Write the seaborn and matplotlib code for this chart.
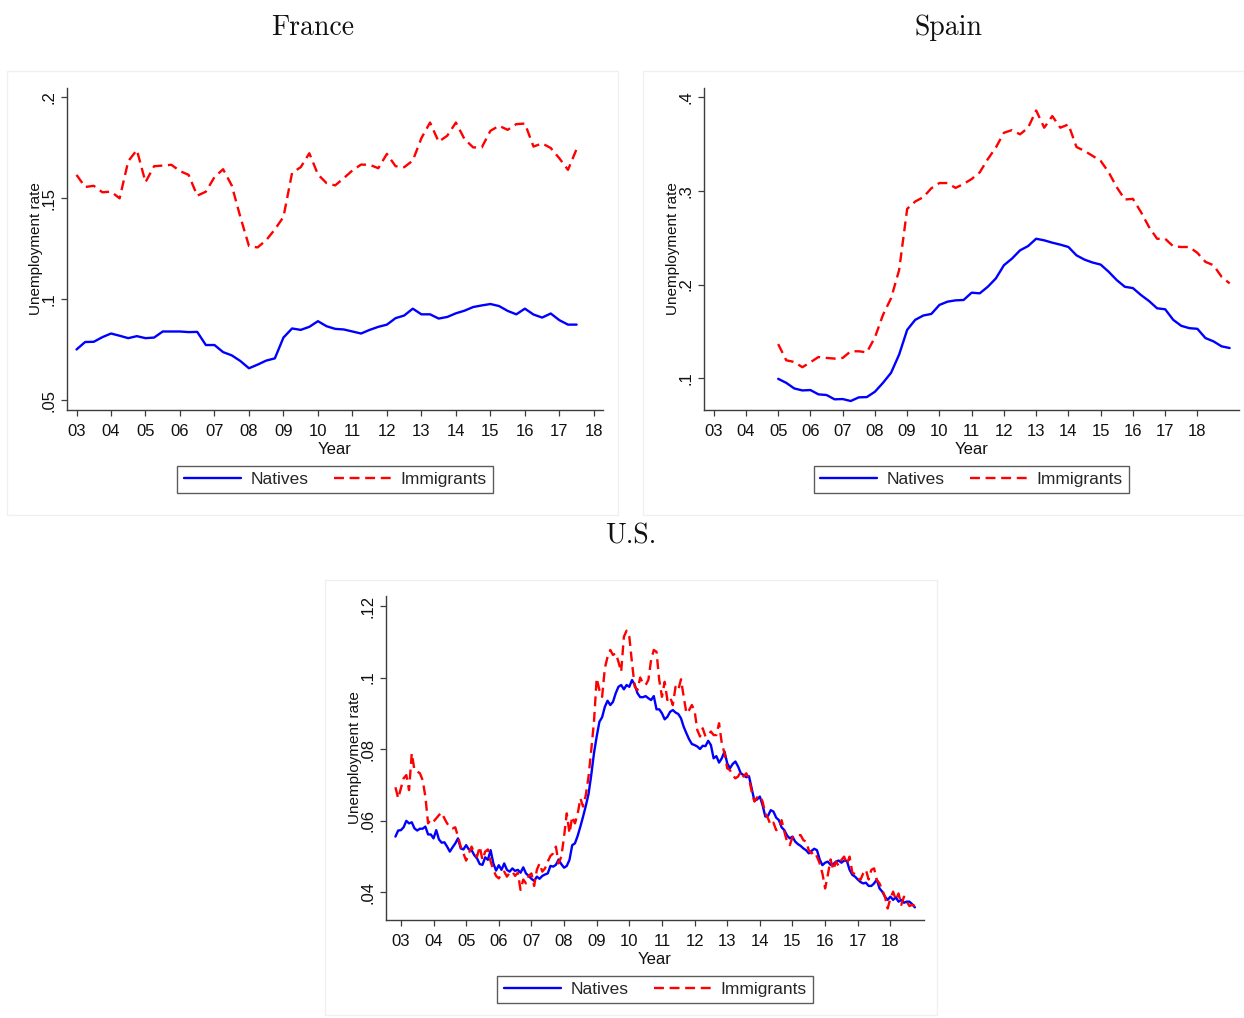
import numpy as np
import pandas as pd
import matplotlib
matplotlib.use("Agg")
import matplotlib.pyplot as plt
from matplotlib.patches import Rectangle
import seaborn as sns

# ---------------- data ----------------
fr_start, fr_n = 2003.0, 59      # quarterly
es_start, es_n = 2005.0, 57      # quarterly
us_start, us_n = 2002 + 10 / 12, 192  # monthly

fr_natives = [0.0752, 0.0789, 0.0790, 0.0813, 0.0831, 0.0820, 0.0808, 0.0818, 0.0808, 0.0811,
              0.0841, 0.0841, 0.0841, 0.0838, 0.0839, 0.0774, 0.0774, 0.0739, 0.0723, 0.0695,
              0.0659, 0.0677, 0.0697, 0.0708, 0.0811, 0.0856, 0.0849, 0.0864, 0.0892, 0.0867,
              0.0854, 0.0851, 0.0841, 0.0831, 0.0849, 0.0864, 0.0875, 0.0907, 0.0920, 0.0954,
              0.0926, 0.0926, 0.0905, 0.0913, 0.0931, 0.0944, 0.0962, 0.0970, 0.0977, 0.0967,
              0.0943, 0.0926, 0.0954, 0.0925, 0.0910, 0.0930, 0.0897, 0.0875, 0.0875]
fr_immigrants = [0.1616, 0.1556, 0.1562, 0.1530, 0.1533, 0.1500, 0.1684, 0.1739, 0.1580, 0.1659,
                 0.1662, 0.1666, 0.1635, 0.1616, 0.1513, 0.1533, 0.1605, 0.1644, 0.1564, 0.1408,
                 0.1264, 0.1257, 0.1293, 0.1346, 0.1408, 0.1626, 0.1654, 0.1723, 0.1618, 0.1575,
                 0.1564, 0.1600, 0.1638, 0.1667, 0.1666, 0.1649, 0.1720, 0.1659, 0.1654, 0.1687,
                 0.1798, 0.1875, 0.1780, 0.1810, 0.1875, 0.1793, 0.1752, 0.1752, 0.1834, 0.1859,
                 0.1839, 0.1867, 0.1870, 0.1756, 0.1772, 0.1749, 0.1698, 0.1641, 0.1744]

es_natives = [0.0993, 0.0950, 0.0890, 0.0869, 0.0873, 0.0827, 0.0820, 0.0774, 0.0777, 0.0756,
              0.0795, 0.0798, 0.0855, 0.0950, 0.1057, 0.1251, 0.1516, 0.1623, 0.1669, 0.1686,
              0.1782, 0.1817, 0.1831, 0.1835, 0.1913, 0.1906, 0.1976, 0.2065, 0.2206, 0.2277,
              0.2365, 0.2411, 0.2489, 0.2472, 0.2447, 0.2426, 0.2401, 0.2312, 0.2266, 0.2235,
              0.2213, 0.2136, 0.2047, 0.1976, 0.1962, 0.1888, 0.1824, 0.1746, 0.1736, 0.1623,
              0.1559, 0.1534, 0.1527, 0.1428, 0.1393, 0.1340, 0.1322]
es_immigrants = [0.1364, 0.1191, 0.1173, 0.1117, 0.1170, 0.1226, 0.1216, 0.1209, 0.1216, 0.1287,
                 0.1287, 0.1276, 0.1435, 0.1676, 0.1853, 0.2153, 0.2808, 0.2887, 0.2933, 0.3028,
                 0.3084, 0.3084, 0.3032, 0.3074, 0.3127, 0.3198, 0.3339, 0.3463, 0.3621, 0.3649,
                 0.3604, 0.3675, 0.3859, 0.3675, 0.3799, 0.3675, 0.3710, 0.3469, 0.3427, 0.3374,
                 0.3321, 0.3198, 0.3039, 0.2908, 0.2915, 0.2774, 0.2614, 0.2489, 0.2489, 0.2408,
                 0.2401, 0.2401, 0.2338, 0.2242, 0.2206, 0.2083, 0.2012]

us_natives = [0.0555, 0.0572, 0.0573, 0.0581, 0.0599, 0.0592, 0.0595, 0.0578, 0.0572, 0.0577,
              0.0577, 0.0583, 0.0561, 0.0561, 0.0550, 0.0573, 0.0547, 0.0538, 0.0539, 0.0527,
              0.0513, 0.0525, 0.0536, 0.0550, 0.0522, 0.0519, 0.0531, 0.0519, 0.0517, 0.0503,
              0.0494, 0.0478, 0.0476, 0.0497, 0.0490, 0.0517, 0.0480, 0.0460, 0.0475, 0.0462,
              0.0480, 0.0462, 0.0457, 0.0466, 0.0459, 0.0462, 0.0454, 0.0469, 0.0452, 0.0445,
              0.0437, 0.0431, 0.0443, 0.0437, 0.0445, 0.0449, 0.0452, 0.0473, 0.0471, 0.0476,
              0.0491, 0.0478, 0.0468, 0.0473, 0.0490, 0.0531, 0.0536, 0.0557, 0.0583, 0.0611,
              0.0641, 0.0674, 0.0727, 0.0788, 0.0835, 0.0876, 0.0889, 0.0918, 0.0935, 0.0923,
              0.0932, 0.0956, 0.0974, 0.0979, 0.0967, 0.0979, 0.0974, 0.0993, 0.0979, 0.0956,
              0.0945, 0.0945, 0.0948, 0.0942, 0.0937, 0.0948, 0.0911, 0.0911, 0.0900, 0.0883,
              0.0890, 0.0904, 0.0909, 0.0902, 0.0898, 0.0886, 0.0862, 0.0844, 0.0827, 0.0814,
              0.0811, 0.0807, 0.0800, 0.0809, 0.0808, 0.0823, 0.0811, 0.0774, 0.0780, 0.0762,
              0.0774, 0.0793, 0.0760, 0.0746, 0.0758, 0.0765, 0.0751, 0.0732, 0.0727, 0.0721,
              0.0724, 0.0690, 0.0655, 0.0659, 0.0667, 0.0643, 0.0611, 0.0613, 0.0629, 0.0625,
              0.0608, 0.0601, 0.0581, 0.0573, 0.0558, 0.0550, 0.0555, 0.0541, 0.0534, 0.0529,
              0.0522, 0.0517, 0.0508, 0.0515, 0.0521, 0.0517, 0.0491, 0.0475, 0.0482, 0.0485,
              0.0476, 0.0478, 0.0485, 0.0488, 0.0482, 0.0488, 0.0487, 0.0462, 0.0448, 0.0443,
              0.0435, 0.0428, 0.0424, 0.0426, 0.0417, 0.0417, 0.0424, 0.0435, 0.0410, 0.0401,
              0.0387, 0.0378, 0.0387, 0.0378, 0.0385, 0.0373, 0.0378, 0.0370, 0.0373, 0.0373,
              0.0366, 0.0357]
us_immigrants = [0.0693, 0.0662, 0.0690, 0.0718, 0.0727, 0.0685, 0.0788, 0.0741, 0.0737, 0.0732,
                 0.0713, 0.0667, 0.0592, 0.0603, 0.0597, 0.0606, 0.0615, 0.0622, 0.0606, 0.0592,
                 0.0581, 0.0578, 0.0581, 0.0555, 0.0527, 0.0508, 0.0488, 0.0508, 0.0527, 0.0508,
                 0.0499, 0.0527, 0.0490, 0.0513, 0.0519, 0.0485, 0.0462, 0.0445, 0.0438, 0.0450,
                 0.0457, 0.0443, 0.0454, 0.0457, 0.0445, 0.0454, 0.0406, 0.0435, 0.0424, 0.0445,
                 0.0452, 0.0417, 0.0462, 0.0480, 0.0457, 0.0466, 0.0485, 0.0501, 0.0508, 0.0527,
                 0.0480, 0.0499, 0.0555, 0.0620, 0.0564, 0.0611, 0.0592, 0.0618, 0.0662, 0.0639,
                 0.0671, 0.0723, 0.0797, 0.0876, 0.0998, 0.0965, 0.0946, 0.1026, 0.1058, 0.1077,
                 0.1063, 0.1068, 0.1044, 0.1016, 0.1114, 0.1131, 0.1114, 0.1040, 0.0974, 0.0965,
                 0.1000, 0.0984, 0.0979, 0.0993, 0.1049, 0.1077, 0.1072, 0.0993, 0.0946, 0.0988,
                 0.0937, 0.0946, 0.0923, 0.0974, 0.0965, 0.0995, 0.0946, 0.0900, 0.0909, 0.0923,
                 0.0907, 0.0853, 0.0835, 0.0858, 0.0835, 0.0839, 0.0849, 0.0839, 0.0839, 0.0872,
                 0.0816, 0.0788, 0.0746, 0.0741, 0.0727, 0.0718, 0.0723, 0.0737, 0.0723, 0.0732,
                 0.0718, 0.0681, 0.0653, 0.0665, 0.0669, 0.0653, 0.0620, 0.0606, 0.0587, 0.0594,
                 0.0573, 0.0578, 0.0601, 0.0569, 0.0541, 0.0531, 0.0553, 0.0555, 0.0559, 0.0559,
                 0.0545, 0.0541, 0.0517, 0.0508, 0.0513, 0.0499, 0.0480, 0.0452, 0.0410, 0.0448,
                 0.0491, 0.0462, 0.0485, 0.0473, 0.0490, 0.0499, 0.0478, 0.0499, 0.0454, 0.0450,
                 0.0438, 0.0434, 0.0452, 0.0462, 0.0435, 0.0462, 0.0466, 0.0434, 0.0424, 0.0406,
                 0.0387, 0.0354, 0.0382, 0.0401, 0.0378, 0.0396, 0.0364, 0.0387, 0.0373, 0.0361,
                 0.0364, 0.0361]

year_ticks = list(range(2003, 2019))
year_labels = [f"{y - 2000:02d}" for y in year_ticks]

fr_yticks = [0.05, 0.10, 0.15, 0.20]
fr_ylabels = [".05", ".1", ".15", ".2"]
es_yticks = [0.1, 0.2, 0.3, 0.4]
es_ylabels = [".1", ".2", ".3", ".4"]
us_yticks = [0.04, 0.06, 0.08, 0.10, 0.12]
us_ylabels = [".04", ".06", ".08", ".1", ".12"]

fr_time = fr_start + np.arange(fr_n) / 4
es_time = es_start + np.arange(es_n) / 4
us_time = us_start + np.arange(us_n) / 12

# ---------------- style ----------------
sns.set_style("ticks")
plt.rcParams["font.family"] = ["Liberation Sans", "DejaVu Sans"]

W, H = 1244, 1018
fig = plt.figure(figsize=(W / 100, H / 100), dpi=100)
fig.patch.set_facecolor("white")

BLUE = "#0000ff"
RED = "#ff0000"
AX_COL = "#3c3c3c"


def px_rect(x0, y0, x1, y1):
    return [x0 / W, 1 - y1 / H, (x1 - x0) / W, (y1 - y0) / H]


# faint panel frames (drawn behind everything)
for (x0, y0, x1, y1) in [(7, 71, 618, 515), (643, 71, 1244, 515), (325, 580, 937, 1015)]:
    fig.patches.append(Rectangle((x0 / W, 1 - y1 / H), (x1 - x0) / W, (y1 - y0) / H,
                                 transform=fig.transFigure, facecolor="none",
                                 edgecolor="#f0f0f0", lw=1.0, zorder=-10))


def draw_panel(rect, time, nat, imm, xlim, ylim, yticks, ylabels):
    ax = fig.add_axes(rect)
    ax.patch.set_alpha(0)
    df_n = pd.DataFrame({"Year": time, "rate": nat})
    df_i = pd.DataFrame({"Year": time, "rate": imm})
    sns.lineplot(data=df_n, x="Year", y="rate", ax=ax, color=BLUE, lw=1.7,
                 label="Natives")
    sns.lineplot(data=df_i, x="Year", y="rate", ax=ax, color=RED, lw=1.7,
                 linestyle=(0, (4.2, 2.4)), label="Immigrants")
    ax.set_xlim(*xlim)
    ax.set_ylim(*ylim)
    ax.set_xticks(year_ticks)
    ax.set_xticklabels(year_labels)
    ax.set_yticks(yticks)
    ax.set_yticklabels(ylabels, rotation=90, va="center")
    for s in ["top", "right"]:
        ax.spines[s].set_visible(False)
    for s in ["left", "bottom"]:
        ax.spines[s].set_color(AX_COL)
        ax.spines[s].set_linewidth(1.0)
    ax.tick_params(axis="both", direction="out", length=4.5, width=0.9,
                   color=AX_COL, labelsize=12, labelcolor="#111111")
    ax.tick_params(axis="x", pad=5.5)
    ax.tick_params(axis="y", pad=3)
    ax.set_xlabel("Year", fontsize=12, labelpad=2.5, color="#111111")
    ax.set_ylabel("Unemployment rate", fontsize=11, labelpad=-1, color="#111111")
    leg = ax.legend(loc="center", bbox_to_anchor=(0.5, -0.215), ncol=2,
                    frameon=True, fancybox=False, fontsize=12.5,
                    handlelength=3.3, columnspacing=1.45, handletextpad=0.55,
                    borderpad=0.35, borderaxespad=0)
    leg.get_frame().set_edgecolor("#333333")
    leg.get_frame().set_linewidth(1.0)
    return ax


draw_panel(px_rect(67, 88, 603, 410), fr_time, fr_natives, fr_immigrants,
           (2002.724, 2018.265), (0.04525, 0.2046), fr_yticks, fr_ylabels)
draw_panel(px_rect(704, 88, 1239, 410), es_time, es_natives, es_immigrants,
           (2002.70, 2019.29), (0.066, 0.4099), es_yticks, es_ylabels)
draw_panel(px_rect(386, 596, 924, 920), us_time, us_natives, us_immigrants,
           (2002.544, 2019.03), (0.03217, 0.1228), us_yticks, us_ylabels)

title_kw = dict(family="cmr10", fontsize=20, ha="center", va="center", color="#111111")
fig.text(313 / W, 1 - 27.5 / H, "France", **title_kw)
fig.text(949 / W, 1 - 27.5 / H, "Spain", **title_kw)
fig.text(631 / W, 1 - 536.5 / H, "U.S.", **title_kw)

fig.savefig("out.png", dpi=100, facecolor="white")
